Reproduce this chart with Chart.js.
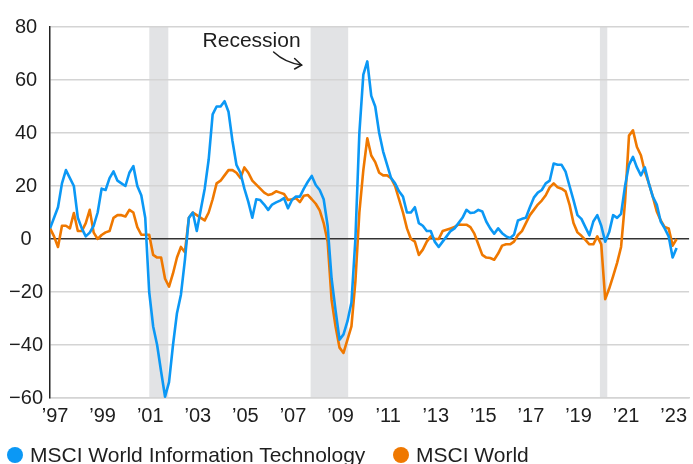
<!DOCTYPE html>
<html>
<head>
<meta charset="utf-8">
<script src="https://cdn.jsdelivr.net/npm/chart.js@4.4.0/dist/chart.umd.min.js"></script>
<style>
  html, body { margin: 0; padding: 0; background: #fff; }
  .wrap { position: relative; width: 693px; height: 464px; overflow: hidden; }
  #chart { position: absolute; left: 0; top: 0; }
  .legend { position: absolute; left: 0; top: 443px; width: 693px; height: 24px;
            font: 21px "Liberation Sans", Arial, sans-serif; color: #1e1e1e; }
  .legend .item { position: absolute; top: 0; display: flex; align-items: center; white-space: nowrap; }
  .legend .dot { width: 16px; height: 16px; border-radius: 50%; margin-right: 7px; }
</style>
</head>
<body>
<div class="wrap">
  <canvas id="chart" width="693" height="464"></canvas>
  <div class="legend" id="legend"></div>
</div>
<script>
// sampled every two months, first point ~Oct 1996
const firstDate = 1996.79;
const stepYears = 2 / 12;

const techValues = [
  4, 8, 12, 21, 26, 23, 20, 8, 4, 1, 2.4, 5, 10, 19, 18.5, 23, 25.5, 22, 21, 20,
  25, 27.5, 20, 16.5, 8, -20, -33, -40, -50, -59.5, -54, -40, -28, -21, -8, 8, 10, 3, 11, 19,
  30, 47, 50, 50, 52, 48, 37, 28, 25, 19, 14, 8, 15, 14.7, 13, 11, 13, 13.8, 14.5, 15.4,
  11.6, 14.7, 16, 16, 19, 21.6, 23.8, 20.4, 18.5, 15, 5, -15, -27, -38, -36, -31, -24, 0, 40, 62,
  67, 54, 50, 40, 33, 28, 23, 21, 18, 16, 10, 10, 12, 6, 5, 3, 3, -1, -3, -1,
  1, 3, 4, 6, 8, 11, 9.8, 10, 11, 10.4, 6.6, 4, 2, 4, 2.2, 1, 0.4, 1.6, 7, 7.6,
  8, 12, 15.6, 17.5, 18.5, 21, 22, 28.5, 28, 28, 25.4, 20, 14.7, 9, 7.6, 4.5, 1.4, 6.6, 9, 5,
  -1, 2.6, 9, 8, 9.5, 20, 28, 31, 27, 24, 27, 21, 16, 13, 6.6, 4, 1, -7, -3.4
];

const worldValues = [
  4, 1, -3, 5, 5, 4, 9.8, 3, 3, 6, 11, 2.4, 0, 1.5, 2.5, 3, 8, 9, 9, 8.5,
  11, 10, 4.5, 1.6, 1.6, 1.6, -6, -7, -7, -15, -18, -13, -7, -3, -5, 8, 10, 9, 8, 7,
  10, 15, 21, 22, 24, 26, 26, 25, 23, 27, 25, 22, 20.5, 19, 17.5, 16.6, 17, 18, 17.5, 17,
  14.7, 15, 15.4, 13.9, 16.3, 16.6, 15, 13.3, 10.8, 6, -1, -23, -33, -41, -43, -38, -33, -16, 10, 26,
  38, 31.5, 29, 25, 24, 24, 23, 20, 15, 10, 4, 0, -1, -6, -4, -1, 1, 0, 0, 3,
  3.5, 4, 4.5, 5.5, 5.4, 5.4, 4.5, 2, -2, -6, -7, -7.2, -7.8, -5.5, -2.5, -2, -2, -1, 1.5, 3,
  6, 9, 11, 13, 14.5, 16.5, 19.5, 21, 19.5, 19, 18, 13, 6, 2.5, 1.2, -0.3, -2, -2, 1, -2,
  -22.7, -18.7, -14, -9, -3, 14, 39, 41, 34.7, 31.6, 25.4, 21, 16, 10.4, 7, 4.5, 4, -2.5, 0
];

const tickYears = [1997, 1999, 2001, 2003, 2005, 2007, 2009, 2011, 2013, 2015, 2017, 2019, 2021, 2023];
const yTicks = [-60, -40, -20, 0, 20, 40, 60, 80];

const recessionStart = [2000.96, 2007.74, 2019.90];
const recessionEnd = [2001.76, 2009.32, 2020.21];

const seriesNames = ["MSCI World Information Technology", "MSCI World"];
const seriesColors = ["#0b98f5", "#ef7800"];

const xMin = 1996.787;
const xMax = 2023.648;

const textColor = "#1e1e1e";
const tickFont = { family: "'Liberation Sans', Arial, sans-serif", size: 20 };

function toPoints(values) {
  return values.map((v, i) => ({ x: firstDate + i * stepYears, y: v }));
}

const recessionPlugin = {
  id: "recessions",
  beforeDraw(chart) {
    const { ctx, chartArea, scales } = chart;
    ctx.save();
    ctx.fillStyle = "#e2e3e5";
    recessionStart.forEach((start, i) => {
      const x0 = scales.x.getPixelForValue(start);
      const x1 = scales.x.getPixelForValue(recessionEnd[i]);
      ctx.fillRect(x0, chartArea.top, x1 - x0, chartArea.bottom - chartArea.top);
    });
    ctx.restore();
  },
  afterDraw(chart) {
    const { ctx, scales } = chart;
    // label + arrow pointing at the 2008 recession band
    const bx = scales.x.getPixelForValue(recessionStart[1]);
    const by = scales.y.getPixelForValue(80);
    ctx.save();
    ctx.fillStyle = textColor;
    ctx.font = "21px 'Liberation Sans', Arial, sans-serif";
    ctx.textAlign = "right";
    ctx.textBaseline = "alphabetic";
    ctx.fillText("Recession", bx - 10, by + 20);

    ctx.strokeStyle = textColor;
    ctx.lineWidth = 1.5;
    ctx.lineCap = "round";
    ctx.beginPath();
    ctx.moveTo(bx - 37, by + 25);
    ctx.quadraticCurveTo(bx - 25, by + 36, bx - 9, by + 38);
    ctx.stroke();
    ctx.beginPath();
    ctx.moveTo(bx - 16, by + 31.5);
    ctx.lineTo(bx - 9, by + 38);
    ctx.lineTo(bx - 16, by + 42);
    ctx.stroke();
    ctx.restore();
  }
};

const datasets = [techValues, worldValues].map((vals, i) => ({
  label: seriesNames[i],
  data: toPoints(vals),
  borderColor: seriesColors[i],
  backgroundColor: seriesColors[i],
  borderWidth: 2.6,
  borderJoinStyle: "round",
  pointRadius: 0,
  tension: 0,
  fill: false
}));

new Chart(document.getElementById("chart"), {
  type: "line",
  data: { datasets: datasets },
  plugins: [recessionPlugin],
  options: {
    responsive: false,
    animation: false,
    layout: { padding: { top: 27, bottom: 30, left: 0, right: 0 } },
    plugins: {
      legend: { display: false },
      tooltip: { enabled: false }
    },
    scales: {
      x: {
        type: "linear",
        min: xMin,
        max: xMax,
        afterBuildTicks: (scale) => { scale.ticks = tickYears.map((v) => ({ value: v })); },
        afterFit: (scale) => { scale.height = 36; },
        ticks: {
          font: tickFont,
          color: textColor,
          padding: 6,
          maxRotation: 0,
          autoSkip: false,
          callback: (v) => "\u2019" + String(v).slice(2)
        },
        grid: { display: false, drawTicks: false },
        border: { display: true, color: "#d4d4d4", width: 1.5 }
      },
      y: {
        min: -60,
        max: 80,
        afterBuildTicks: (scale) => { scale.ticks = yTicks.map((v) => ({ value: v })); },
        afterFit: (scale) => { scale.width = 50; },
        ticks: {
          font: tickFont,
          color: textColor,
          padding: 7,
          crossAlign: "center",
          callback: (v) => String(v).replace("-", "\u2212")
        },
        grid: {
          color: (ctx) => (ctx.tick && ctx.tick.value === 0 ? "#333333" : "#d4d4d4"),
          lineWidth: 1.5,
          drawTicks: false
        },
        border: { display: true, color: "#222222", width: 1.5 }
      }
    }
  }
});

// legend
const legend = document.getElementById("legend");
const legendLeft = [7, 393];
seriesNames.forEach((name, i) => {
  const item = document.createElement("div");
  item.className = "item";
  item.style.left = legendLeft[i] + "px";
  item.innerHTML = '<span class="dot" style="background:' + seriesColors[i] + '"></span>' + name;
  legend.appendChild(item);
});
</script>
</body>
</html>
